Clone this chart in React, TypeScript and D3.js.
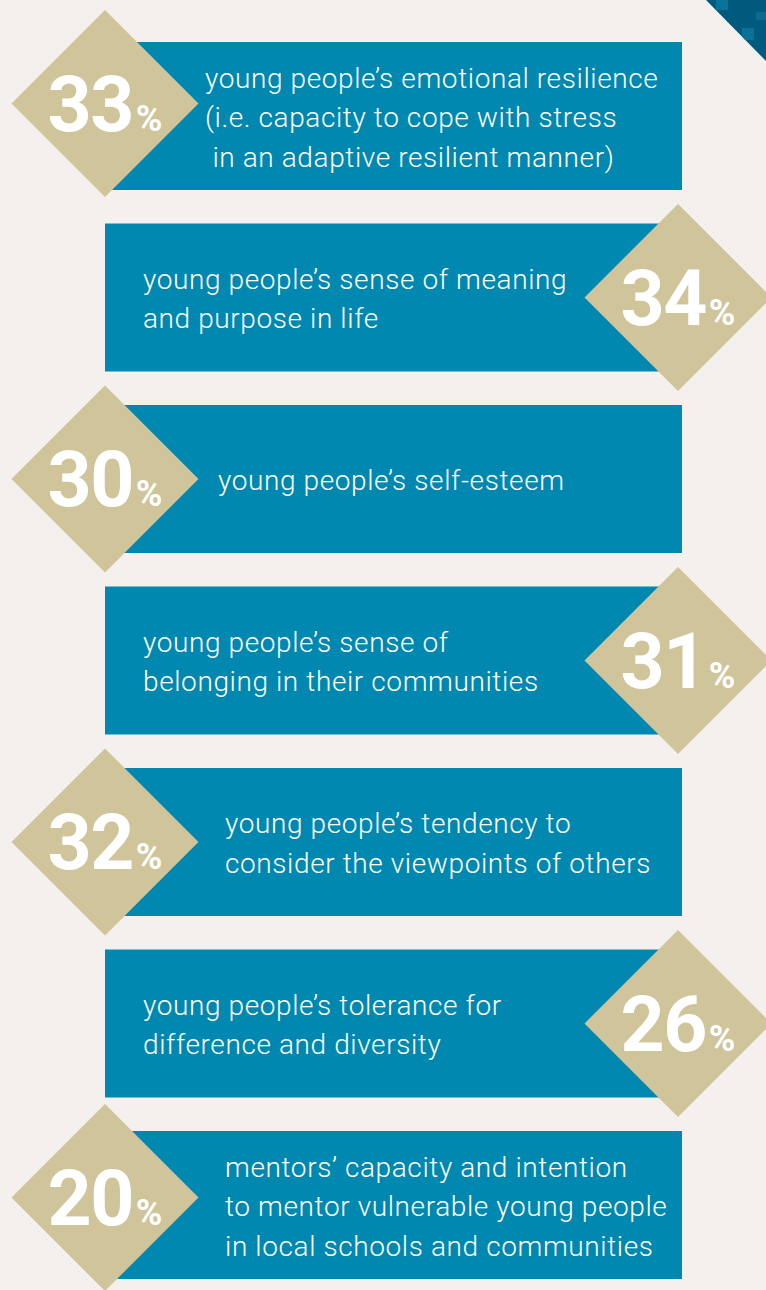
import React from "react";
import * as d3 from "d3";

const percents: number[] = [33, 34, 30, 31, 32, 26, 20];
const labels: string[][] = [
  ["young people’s emotional resilience", "(i.e. capacity to cope with stress", " in an adaptive resilient manner)"],
  ["young people’s sense of meaning", "and purpose in life"],
  ["young people’s self-esteem"],
  ["young people’s sense of", "belonging in their communities"],
  ["young people’s tendency to", "consider the viewpoints of others"],
  ["young people’s tolerance for", "difference and diversity"],
  ["mentors’ capacity and intention", "to mentor vulnerable young people", "in local schools and communities"],
];

// layout constants (not data)
const W = 766;
const H = 1290;
const BG = "#f3f0ed";
const BLUE = "#0088b0";
const TAN = "#cfc49a";
const BOX_X0 = 105;
const BOX_X1 = 682;
const BOX_H = 148;
const DIAMOND_R = 93.5;
const LEFT_CX = 105;
const RIGHT_CX = 678;
const textX = [205, 143, 218, 143, 225, 143, 225];
const diamondShift = [-12.5, 0, 0, 0, 0, 0, -7.5];
const LINE_H = 39.5;
const TEXT_FONT = "Roboto, 'Open Sans', sans-serif";

export default function App() {
  const idx = d3.range(percents.length);
  const yTop = d3.scaleLinear().domain([0, percents.length - 1]).range([42, 1131]);
  const diamondPath = (cx: number, cy: number) =>
    d3.line()([
      [cx, cy - DIAMOND_R],
      [cx + DIAMOND_R, cy],
      [cx, cy + DIAMOND_R],
      [cx - DIAMOND_R, cy],
    ]) + "Z";

  return (
    <div style={{ position: "absolute", left: 0, top: 0, width: W, height: H, background: BG }}>
      <svg width={W} height={H} style={{ display: "block" }}>
        <rect x={0} y={0} width={W} height={H} fill={BG} />
        <defs>
          <clipPath id="corner">
            <path d={`M706,0 L766,0 L766,61 Z`} />
          </clipPath>
        </defs>
        <g clipPath="url(#corner)">
          <rect x={700} y={0} width={66} height={62} fill="#005a7e" />
          <rect x={716} y={0} width={12} height={10} fill="#0a7198" />
          <rect x={742} y={28} width={12} height={12} fill="#0a7198" />
          <rect x={756} y={12} width={10} height={8} fill="#0a6a8f" />
        </g>
        {idx.map((i) => {
          const top = yTop(i);
          const cy = top + BOX_H / 2;
          const left = i % 2 === 0;
          const dcx = left ? LEFT_CX : RIGHT_CX;
          const dcy = cy + diamondShift[i];
          const lines = labels[i];
          const n = lines.length;
          return (
            <g key={i}>
              <rect x={BOX_X0} y={top} width={BOX_X1 - BOX_X0} height={BOX_H} fill={BLUE} />
              <path d={diamondPath(dcx, dcy)} fill={TAN} />
              <text
                x={dcx}
                y={dcy + 27}
                textAnchor="middle"
                fill="#fff"
                fontFamily="Roboto, 'DejaVu Sans', sans-serif"
                fontWeight={700}
              >
                <tspan fontSize={77} letterSpacing={-1.5}>{percents[i]}</tspan>
                <tspan fontSize={36} dx={3}>%</tspan>
              </text>
              {lines.map((ln, j) => (
                <text
                  key={j}
                  x={textX[i]}
                  y={cy + 11 + (j - (n - 1) / 2) * LINE_H}
                  fill="#fff"
                  fontFamily={TEXT_FONT}
                  fontWeight={300}
                  fontSize={28}
                  letterSpacing={0.6}
                  style={{ whiteSpace: "pre" }}
                >
                  {ln}
                </text>
              ))}
            </g>
          );
        })}
      </svg>
    </div>
  );
}
